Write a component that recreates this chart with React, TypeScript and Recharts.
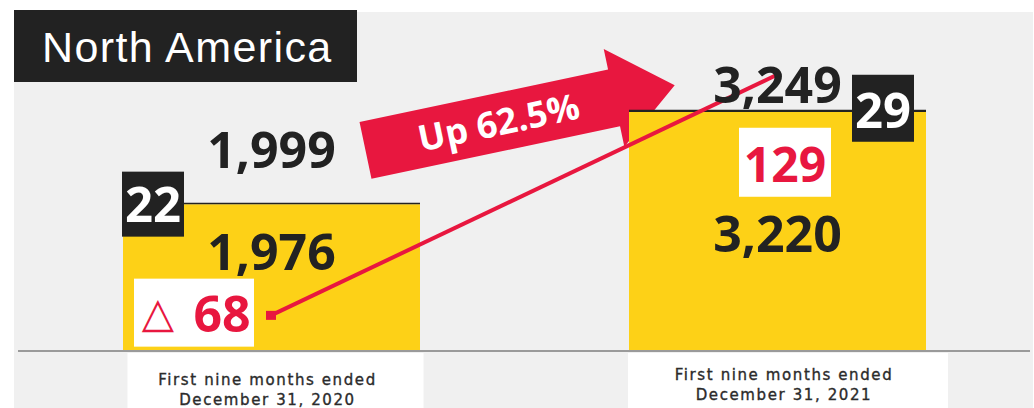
import { BarChart, Bar, XAxis, YAxis, LabelList, ReferenceLine, ReferenceDot, Customized } from 'recharts';

const periods = ['2020', '2021'];
const periodLine1 = ['First nine months ended', 'First nine months ended'];
const periodLine2 = ['December 31, 2020', 'December 31, 2021'];
const revenue = [1976, 3220];
const otherSegment = [22, 29];
const totals = [1999, 3249];
const profit = [-68, 129];
const growthText = 'Up 62.5%';
const connectorLevels = [480, 3720];

const COLORS = {
  bar: '#fdd117',
  dark: '#222222',
  red: '#e8173f',
  bg: '#f0f0f0',
  axis: '#9a9a9a',
  tick: '#2b2b2b',
};

const NUM_FONT = '"Open Sans", "DejaVu Sans", sans-serif';

// label placement relative to each bar's top-left corner
const TOTAL_DY = [-35, -7];
const REVENUE_DY = [67, 142];
const OTHER_BOX = [
  { dx: -1, dy: -31, w: 62, h: 65, base: 19 },
  { dx: 223, dy: -35, w: 62, h: 67, base: 18 },
];
const PROFIT_BOX = [
  { dx: 11, dy: 76, w: 120, h: 68, base: 129 },
  { dx: 110, dy: 18, w: 92, h: 69, base: 72 },
];
const TICK_BOX = [
  { dx: 4.5, w: 296, textDx: -3.5, l1: 34, l2: 54 },
  { dx: 11, w: 320, textDx: 7, l1: 29, l2: 49 },
];

const rows = periods.map((period, i) => ({
  period,
  revenue: revenue[i],
  other: otherSegment[i],
  total: totals[i],
  profit: profit[i],
}));

const fmt = (v: number) => v.toLocaleString('en-US');

const barRect = (p: any) => {
  const vb = p.viewBox && p.viewBox.width != null ? p.viewBox : p;
  return { x: Number(vb.x), y: Number(vb.y), width: Number(vb.width), index: Number(p.index) };
};

const TotalLabel = (p: any) => {
  const { x, y, width, index } = barRect(p);
  return (
    <text x={x + width / 2} y={y + TOTAL_DY[index]} textAnchor="middle" fill={COLORS.dark}
      fontFamily={NUM_FONT} fontWeight={700} fontSize={50}>
      {fmt(p.value)}
    </text>
  );
};

const RevenueLabel = (p: any) => {
  const { x, y, width, index } = barRect(p);
  return (
    <text x={x + width / 2} y={y + REVENUE_DY[index]} textAnchor="middle" fill={COLORS.dark}
      fontFamily={NUM_FONT} fontWeight={700} fontSize={50}>
      {fmt(p.value)}
    </text>
  );
};

const OtherLabel = (p: any) => {
  const { x, y, index } = barRect(p);
  const b = OTHER_BOX[index];
  return (
    <g>
      <rect x={x + b.dx} y={y + b.dy} width={b.w} height={b.h} fill={COLORS.dark} />
      <text x={x + b.dx + b.w / 2} y={y + b.base} textAnchor="middle" fill="#fff"
        fontFamily={NUM_FONT} fontWeight={700} fontSize={49}>
        {p.value}
      </text>
    </g>
  );
};

const ProfitLabel = (p: any) => {
  const { x, y, index } = barRect(p);
  const b = PROFIT_BOX[index];
  const v = Number(p.value);
  const bx = x + b.dx;
  const by = y + b.dy;
  return (
    <g>
      <rect x={bx} y={by} width={b.w} height={b.h} fill="#fff" />
      {v < 0 ? (
        <>
          <text x={bx + 24} y={y + b.base - 5} textAnchor="middle" fill={COLORS.red}
            fontFamily='"DejaVu Sans", sans-serif' fontSize={42}>
            △
          </text>
          <text x={bx + 88} y={y + b.base} textAnchor="middle" fill={COLORS.red}
            fontFamily={NUM_FONT} fontWeight={700} fontSize={50}>
            {Math.abs(v)}
          </text>
        </>
      ) : (
        <text x={bx + b.w / 2} y={y + b.base} textAnchor="middle" fill={COLORS.red}
          fontFamily={NUM_FONT} fontWeight={700} fontSize={48}>
          {v}
        </text>
      )}
    </g>
  );
};

const PeriodTick = (p: any) => {
  const { x, y, payload } = p;
  const i = periods.indexOf(String(payload.value));
  if (i < 0) return null;
  const b = TICK_BOX[i];
  const style = { fontFamily: '"DejaVu Sans", sans-serif', fontSize: 15, letterSpacing: 1.6 };
  return (
    <g>
      <rect x={x + b.dx - b.w / 2} y={y + 2} width={b.w} height={60} fill="#fff" />
      <text x={x + b.textDx} y={y + b.l1} textAnchor="middle" fill={COLORS.tick}
        stroke={COLORS.tick} strokeWidth={0.35} style={style}>
        {periodLine1[i]}
      </text>
      <text x={x + b.textDx} y={y + b.l2} textAnchor="middle" fill={COLORS.tick}
        stroke={COLORS.tick} strokeWidth={0.35} style={style}>
        {periodLine2[i]}
      </text>
    </g>
  );
};

const GrowthArrow = () => (
  <g transform="translate(365.5 150.3) rotate(-11.9)">
    <polygon points="0,-29 254,-29 254,-50 316,0 254,50 254,29 0,29" fill={COLORS.red} />
    <text x={136} y={13} textAnchor="middle" fill="#fff" fontFamily={NUM_FONT} fontWeight={700} fontSize={36}>
      {growthText}
    </text>
  </g>
);

const NorthAmericaChart = () => {
  return (
    <div style={{ position: 'absolute', left: 0, top: 0, width: 1034, height: 408, background: '#fff', overflow: 'hidden' }}>
      <div style={{ position: 'absolute', left: 14, top: 12, width: 1019, height: 396, background: COLORS.bg }} />
      <div style={{ position: 'absolute', left: 0, top: 0 }}>
        <BarChart width={1034} height={408} data={rows} barSize={297}
          margin={{ top: 54, right: 4, bottom: 0, left: 18 }}>
          <XAxis dataKey="period" height={57} tickLine={false} tickSize={0} tickMargin={0}
            axisLine={{ stroke: COLORS.axis, strokeWidth: 2 }} tick={<PeriodTick />} interval={0} />
          <YAxis hide domain={[0, 4000]} />
          <Bar dataKey="revenue" stackId="a" fill={COLORS.bar} isAnimationActive={false} />
          <Bar dataKey="other" stackId="a" fill={COLORS.dark} isAnimationActive={false}>
            <LabelList dataKey="total" content={TotalLabel} />
            <LabelList dataKey="revenue" content={RevenueLabel} />
            <LabelList dataKey="other" content={OtherLabel} />
            <LabelList dataKey="profit" content={ProfitLabel} />
          </Bar>
          <Customized component={GrowthArrow} />
          <ReferenceLine
            segment={[
              { x: periods[0], y: connectorLevels[0] },
              { x: periods[1], y: connectorLevels[1] },
            ]}
            stroke={COLORS.red}
            strokeWidth={4}
          />
          <ReferenceDot x={periods[0]} y={connectorLevels[0]}
            shape={(d: any) => <rect x={d.cx - 5} y={d.cy - 4.5} width={10} height={9} fill={COLORS.red} />} />
        </BarChart>
      </div>
      <div style={{
        position: 'absolute', left: 14, top: 10, width: 343, height: 72, background: COLORS.dark,
        color: '#fff', fontFamily: '"Liberation Sans", Arial, sans-serif', fontSize: 43, letterSpacing: 1.4,
        lineHeight: '72px', paddingLeft: 28, paddingTop: 1, boxSizing: 'border-box', whiteSpace: 'nowrap',
      }}>
        North America
      </div>
    </div>
  );
};

export default NorthAmericaChart;
